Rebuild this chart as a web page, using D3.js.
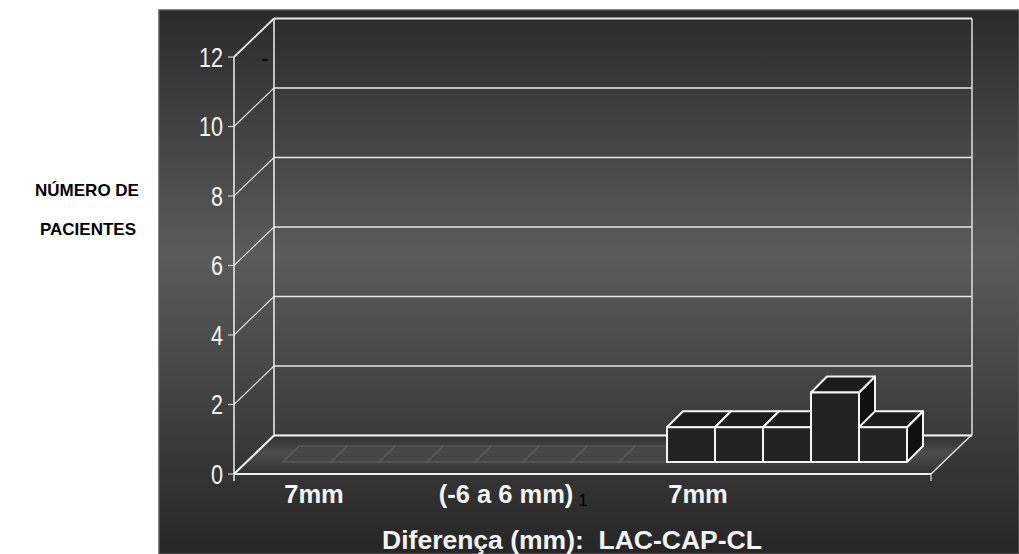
<!DOCTYPE html>
<html>
<head>
<meta charset="utf-8">
<script src="https://cdn.jsdelivr.net/npm/d3@7"></script>
<style>
  html, body { margin: 0; padding: 0; background: #ffffff; }
  svg { display: block; font-family: "Liberation Sans", Arial, sans-serif; }
</style>
</head>
<body>
<svg id="chart" width="1019" height="554"></svg>
<script>
// Patient counts per difference class (LAC-CAP-CL), 13 classes
const categories = ["c1","c2","c3","c4","c5","c6","c7","c8","c9","c10","c11","c12","c13"];
const patients   = [0, 0, 0, 0, 0, 0, 0, 0, 1, 1, 1, 2, 1];

// Category labels shown under the axis (every 4th class)
const tickCategories = ["c1", "c5", "c9"];
const tickLabels     = ["7mm", "(-6 a 6 mm)", "7mm"];

const yTicks = [0, 2, 4, 6, 8, 10, 12];

const svg = d3.select("#chart");
const W = 1019, H = 554;

// plot frame
const panel = { x: 159, y: 10, w: W - 159, h: H - 10 };
const x0 = 234, x1 = 931;           // front axis extent
const depthX = 40, depthY = -38.5;  // wall depth offset
const barPlaneY = -12;              // bar row offset from front edge
const barDX = 16, barDY = -16;      // bar depth

const y = d3.scaleLinear().domain([0, 12]).range([474, 57]);
const x = d3.scaleBand().domain(categories).range([283, 907]).padding(0);

const defs = svg.append("defs");
const bgGrad = defs.append("linearGradient").attr("id", "bg")
  .attr("x1", 0).attr("y1", 0).attr("x2", 0).attr("y2", 1);
bgGrad.append("stop").attr("offset", "0%").attr("stop-color", "#2a2a2a");
bgGrad.append("stop").attr("offset", "45%").attr("stop-color", "#5b5b5b");
bgGrad.append("stop").attr("offset", "100%").attr("stop-color", "#262626");

const floorGrad = defs.append("linearGradient").attr("id", "floor")
  .attr("x1", 0).attr("y1", 0).attr("x2", 0).attr("y2", 1);
floorGrad.append("stop").attr("offset", "0%").attr("stop-color", "#303030");
floorGrad.append("stop").attr("offset", "45%").attr("stop-color", "#4c4c4c");
floorGrad.append("stop").attr("offset", "100%").attr("stop-color", "#323232");

// background panel
svg.append("rect")
  .attr("x", panel.x).attr("y", panel.y).attr("width", panel.w).attr("height", panel.h)
  .attr("fill", "url(#bg)").attr("stroke", "#5a5a5a").attr("stroke-width", 1.5);

const wallL = x0 + depthX, wallR = x1 + depthX + 1;

// back-wall gridlines
svg.append("g").selectAll("line").data(yTicks).join("line")
  .attr("x1", wallL).attr("x2", wallR)
  .attr("y1", d => y(d) + depthY).attr("y2", d => y(d) + depthY)
  .attr("stroke", "#e8e8e8").attr("stroke-width", d => d === 12 ? 2 : 1.5);

// back-wall vertical edges
svg.append("line").attr("x1", wallL).attr("x2", wallL)
  .attr("y1", y(12) + depthY).attr("y2", y(0) + depthY)
  .attr("stroke", "#f0f0f0").attr("stroke-width", 1.5);
svg.append("line").attr("x1", wallR).attr("x2", wallR)
  .attr("y1", y(12) + depthY).attr("y2", y(0) + depthY)
  .attr("stroke", "#e0e0e0").attr("stroke-width", 1.5);

// side-wall diagonals
svg.append("g").selectAll("line").data(yTicks.filter(d => d > 0)).join("line")
  .attr("x1", x0).attr("y1", d => y(d))
  .attr("x2", wallL).attr("y2", d => y(d) + depthY)
  .attr("stroke", "#e8e8e8").attr("stroke-width", d => d === 12 ? 1.8 : 1.1);

// floor
svg.append("polygon")
  .attr("points", [[x0, y(0)], [x1, y(0)], [x1 + depthX, y(0) + depthY], [wallL, y(0) + depthY]].join(" "))
  .attr("fill", "url(#floor)");
svg.append("line").attr("x1", wallL).attr("x2", wallR)
  .attr("y1", y(0) + depthY).attr("y2", y(0) + depthY)
  .attr("stroke", "#f0f0f0").attr("stroke-width", 2);
svg.append("line").attr("x1", x0).attr("y1", y(0))
  .attr("x2", wallL).attr("y2", y(0) + depthY)
  .attr("stroke", "#f0f0f0").attr("stroke-width", 2);
svg.append("line").attr("x1", x1).attr("y1", y(0))
  .attr("x2", x1 + depthX).attr("y2", y(0) + depthY)
  .attr("stroke", "#e0e0e0").attr("stroke-width", 1.5);

// bars
const bars = svg.append("g");
categories.forEach((c, i) => {
  const v = patients[i];
  const xl = x(c), xr = x(c) + x.bandwidth();
  const yb = y(0) + barPlaneY, yt = y(v) + barPlaneY;
  const g = bars.append("g");
  if (v === 0) {
    g.append("polygon")
      .attr("points", [[xl, yb], [xr, yb], [xr + barDX, yb + barDY], [xl + barDX, yb + barDY]].join(" "))
      .attr("fill", "#464646").attr("stroke", "#5e5e5e").attr("stroke-width", 1.2);
    return;
  }
  // side
  g.append("polygon")
    .attr("points", [[xr, yb], [xr + barDX, yb + barDY], [xr + barDX, yt + barDY], [xr, yt]].join(" "))
    .attr("fill", "#101010").attr("stroke", "#f4f4f4").attr("stroke-width", 2).attr("stroke-linejoin", "round");
  // top
  g.append("polygon")
    .attr("points", [[xl, yt], [xr, yt], [xr + barDX, yt + barDY], [xl + barDX, yt + barDY]].join(" "))
    .attr("fill", "#1c1c1c").attr("stroke", "#f4f4f4").attr("stroke-width", 2).attr("stroke-linejoin", "round");
  // front
  g.append("rect")
    .attr("x", xl).attr("y", yt).attr("width", x.bandwidth()).attr("height", yb - yt)
    .attr("fill", "#232323").attr("stroke", "#f4f4f4").attr("stroke-width", 2);
});

// front axes
svg.append("line").attr("x1", x0).attr("x2", x0).attr("y1", y(12)).attr("y2", y(0) + 7)
  .attr("stroke", "#f0f0f0").attr("stroke-width", 1.5);
svg.append("line").attr("x1", x0).attr("x2", x1).attr("y1", y(0)).attr("y2", y(0))
  .attr("stroke", "#f0f0f0").attr("stroke-width", 2);
svg.append("line").attr("x1", x1).attr("x2", x1).attr("y1", y(0)).attr("y2", y(0) + 7)
  .attr("stroke", "#e0e0e0").attr("stroke-width", 1.2);

// y ticks and labels
const yt = svg.append("g");
yt.selectAll("line").data(yTicks).join("line")
  .attr("x1", x0 - 6).attr("x2", x0).attr("y1", d => y(d)).attr("y2", d => y(d))
  .attr("stroke", "#cfcfcf").attr("stroke-width", 1.2);
yt.selectAll("text").data(yTicks).join("text")
  .attr("transform", d => `translate(223,${y(d)}) scale(0.8,1)`)
  .attr("text-anchor", "end").attr("dy", "0.36em")
  .attr("font-size", 27).attr("fill", "#f2f2f2")
  .text(d => d);

// small dash near the top of the side wall
svg.append("text").attr("x", 265).attr("y", 66).attr("text-anchor", "middle")
  .attr("font-size", 22).attr("fill", "#000").text("-");

// category labels
svg.append("g").selectAll("text").data(tickCategories).join("text")
  .attr("x", (d) => x(d) + x.bandwidth() / 2 + 7)
  .attr("y", 503)
  .attr("text-anchor", "middle")
  .attr("font-size", 25.5).attr("font-weight", "bold").attr("fill", "#f4f4f4")
  .text((d, i) => tickLabels[i]);

svg.append("text").attr("x", 583).attr("y", 506).attr("text-anchor", "middle")
  .attr("font-size", 17).attr("fill", "#000").text("1");

// axis titles
svg.append("text").attr("x", 572).attr("y", 549).attr("text-anchor", "middle")
  .attr("font-size", 26.5).attr("font-weight", "bold").attr("fill", "#f4f4f4")
  .attr("xml:space", "preserve")
  .text("Diferença (mm):  LAC-CAP-CL");

const yTitle = svg.append("text").attr("text-anchor", "middle")
  .attr("font-size", 17).attr("font-weight", "bold").attr("fill", "#000");
yTitle.append("tspan").attr("x", 87).attr("y", 196).text("NÚMERO DE");
yTitle.append("tspan").attr("x", 88).attr("y", 235).text("PACIENTES");
</script>
</body>
</html>
